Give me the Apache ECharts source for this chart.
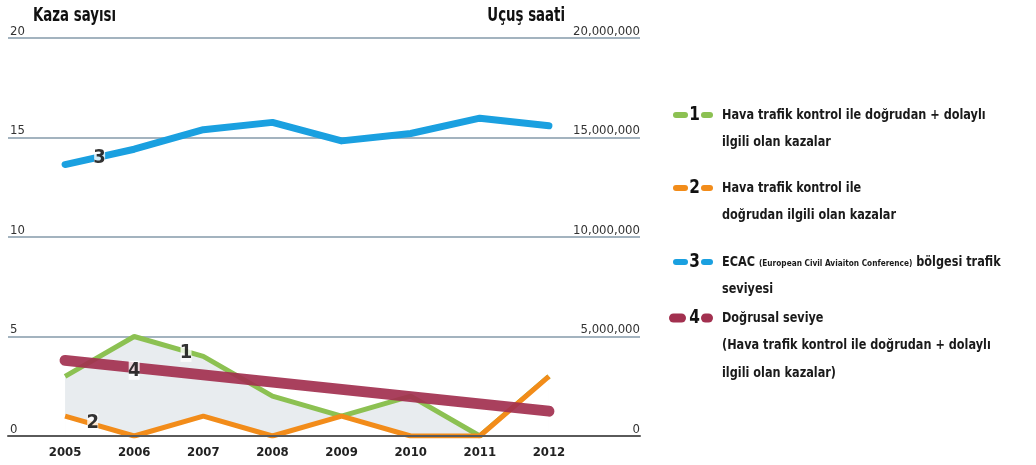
<!DOCTYPE html>
<html>
<head>
<meta charset="utf-8">
<script src="https://cdn.jsdelivr.net/npm/echarts@6/dist/echarts.min.js"></script>
<style>
html,body{margin:0;padding:0;background:#fff;}
#chart{width:1036px;height:465px;}
</style>
</head>
<body>
<div id="chart"></div>
<script>
// ---- data ----
const years = ['2005','2006','2007','2008','2009','2010','2011','2012'];
const accidentsTotal = [3, 5, 4, 2, 1, 2, 0, 3];          // 1: direct + indirect
const accidentsDirect = [1, 0, 1, 0, 1, 0, 0, 3];         // 2: direct
const flightHours = [13640000, 14410000, 15390000, 15760000, 14830000, 15200000, 15970000, 15590000]; // 3
const trendX = [0, 7];                                     // 4: linear trend endpoints (year index)
const trendY = [3.8, 1.25];
const tagText = ['1', '2', '3', '4'];
const tagX = [1.75, 0.4, 0.5, 1.0];
const tagY = [4.2, 0.65, 14.0, 3.3];

const legendItems = [
  {num:'1', lines:['Hava trafik kontrol ile doğrudan + dolaylı','ilgili olan kazalar']},
  {num:'2', lines:['Hava trafik kontrol ile','doğrudan ilgili olan kazalar']},
  {num:'3', lines:['{b|ECAC }{s|(European Civil Aviaiton Conference)}{b| bölgesi trafik}','{b|seviyesi}']},
  {num:'4', lines:['Doğrusal seviye','(Hava trafik kontrol ile doğrudan + dolaylı','ilgili olan kazalar)']}
];

// ---- style ----
const NARROW = "'Liberation Sans Narrow','DejaVu Sans Condensed',sans-serif";
const C_GREEN = '#8cc152', C_ORANGE = '#f28c1a', C_BLUE = '#1aa0e0', C_MAROON = '#a2304f';
const C_FILL = '#e8ecef', C_GRID = '#a3b3bf';

const chart = echarts.init(document.getElementById('chart'));

const legendGraphics = [];
const legendColors = [C_GREEN, C_ORANGE, C_BLUE, C_MAROON];
const legendY = [115, 188, 262, 318];
legendItems.forEach((it, i) => {
  const y = legendY[i];
  const thick = i === 3 ? 9 : 6;
  const lx = i === 3 ? 669 : 673;
  const lw = i === 3 ? 17 : 15;
  legendGraphics.push({type:'rect', shape:{x:lx, y:y - thick/2, width:lw, height:thick, r:thick/2}, style:{fill:legendColors[i]}});
  legendGraphics.push({type:'rect', shape:{x:701, y:y - thick/2, width:12, height:thick, r:thick/2}, style:{fill:legendColors[i]}});
  legendGraphics.push({type:'text', x:694.5, y:y, scaleX:0.85, style:{text:it.num, font:"bold 20px " + NARROW, fill:'#111', align:'center', verticalAlign:'middle'}});
  const txt = it.lines.join('\n');
  const st = {text: txt, x: 0, y: 0, fill:'#1a1a1a', align:'left', verticalAlign:'top', lineHeight: 27.5,
              font: "bold 14.5px " + NARROW};
  if (i === 2) {
    st.rich = {b:{font:"bold 14.5px " + NARROW, fill:'#1a1a1a', lineHeight:27.5},
               s:{font:"bold 9.5px " + NARROW, fill:'#1a1a1a', lineHeight:27.5, padding:[3,0,0,0]}};
  }
  legendGraphics.push({type:'text', x:722, y:y - 13.75, scaleX:0.865, style: st});
});

const option = {
  animation: false,
  backgroundColor: '#fff',
  grid: [
    {left: 8, right: 396, top: 38, bottom: 29},
    {left: 30.5, right: 452.5, top: 38, bottom: 29}
  ],
  xAxis: [
    {type:'value', gridIndex:0, min:0, max:1, z:10,
     axisLine:{show:true, lineStyle:{color:'#5a5a5a', width:2}},
     axisTick:{show:false}, axisLabel:{show:false}, splitLine:{show:false}},
    {type:'category', gridIndex:1, data: years, boundaryGap:true,
     axisLine:{show:false}, axisTick:{show:false}, splitLine:{show:false},
     axisLabel:{color:'#222', fontFamily:NARROW, fontWeight:'bold', fontSize:13, margin:10}},
    {type:'value', gridIndex:1, min:-0.5, max:7.5, show:false}
  ],
  yAxis: [
    {type:'value', gridIndex:0, position:'left', min:0, max:20, interval:5,
     axisLine:{show:false}, axisTick:{show:false},
     axisLabel:{inside:true, verticalAlign:'bottom', margin:2, color:'#333', fontFamily:NARROW, fontSize:13},
     splitLine:{show:true, lineStyle:{color:C_GRID, width:2}}},
    {type:'value', gridIndex:0, position:'right', min:0, max:20000000, interval:5000000,
     axisLine:{show:false}, axisTick:{show:false}, splitLine:{show:false},
     axisLabel:{inside:true, verticalAlign:'bottom', margin:0, color:'#333', fontFamily:NARROW, fontSize:13,
       formatter: v => v.toLocaleString('en-US')}},
    {type:'value', gridIndex:1, min:0, max:20, show:false},
    {type:'value', gridIndex:1, min:0, max:20000000, show:false}
  ],
  graphic: [
    {type:'text', x: 33, y: 7, scaleX:0.78, style:{text:'Kaza sayısı', font:"bold 19px " + NARROW, fill:'#111', align:'left', verticalAlign:'top'}},
    {type:'text', x: 565, y: 7, scaleX:0.78, style:{text:'Uçuş saati', font:"bold 19px " + NARROW, fill:'#111', align:'right', verticalAlign:'top'}},
    ...legendGraphics
  ],
  series: [
    {name:'1', type:'line', xAxisIndex:1, yAxisIndex:2, data: accidentsTotal, symbol:'none', z:2,
     lineStyle:{color:C_GREEN, width:5}, areaStyle:{color:C_FILL, opacity:1}},
    {name:'2', type:'line', xAxisIndex:1, yAxisIndex:2, data: accidentsDirect, symbol:'none', z:3,
     lineStyle:{color:C_ORANGE, width:5}, areaStyle:{color:'#fff', opacity:1}},
    {name:'3', type:'line', xAxisIndex:1, yAxisIndex:3, data: flightHours, symbol:'none', z:3,
     lineStyle:{color:C_BLUE, width:7, cap:'round', join:'round'}},
    {name:'4', type:'line', xAxisIndex:2, yAxisIndex:2, data: trendX.map((x,i)=>[x, trendY[i]]), symbol:'none', z:4,
     lineStyle:{color:C_MAROON, width:11, cap:'round', opacity:0.92}},
    {name:'tags', type:'scatter', xAxisIndex:2, yAxisIndex:2, z:6,
     data: tagText.map((t,i)=>[tagX[i], tagY[i], t]),
     symbol:'rect', symbolSize:[11,19], itemStyle:{color:'#fff'},
     label:{show:true, position:'inside', formatter: p => p.data[2], color:'#000',
            fontFamily:NARROW, fontWeight:'bold', fontSize:20}}
  ]
};
chart.setOption(option);
</script>
</body>
</html>
